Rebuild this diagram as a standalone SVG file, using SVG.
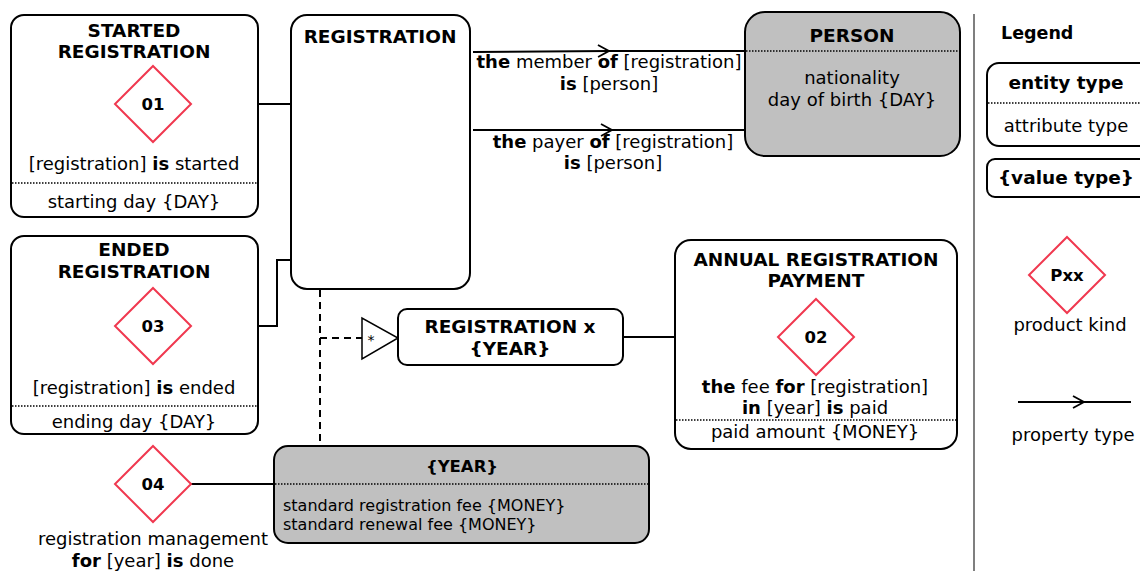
<svg xmlns="http://www.w3.org/2000/svg" width="1140" height="571" viewBox="0 0 1140 571">
<defs>
<style>
text{font-family:"DejaVu Sans",Verdana,sans-serif;fill:#000;}
.t{font-size:18px;text-anchor:middle;}
.h{font-size:18.5px;font-weight:bold;text-anchor:middle;}
.s{font-size:16px;}
.b{font-weight:bold;}
.d{font-size:16.5px;font-weight:bold;text-anchor:middle;}
.box{fill:#fff;stroke:#000;stroke-width:2;}
.gray{fill:#c0c0c0;stroke:#000;stroke-width:2;}
.dot{stroke:#000;stroke-width:1.5;stroke-dasharray:1.5 1.5;fill:none;}
.dia{fill:#fff;stroke:#f0384f;stroke-width:2;}
.ln{stroke:#000;stroke-width:2;fill:none;}
.dash{stroke:#000;stroke-width:2;fill:none;stroke-dasharray:7 5;}
</style>
<marker id="chev" viewBox="0 0 14 14" markerWidth="14" markerHeight="14" refX="12" refY="7" markerUnits="userSpaceOnUse" orient="auto">
<path d="M1,1 L12,7 L1,13" fill="none" stroke="#000" stroke-width="1.8"/>
</marker>
</defs>
<rect width="1140" height="571" fill="#fff"/>

<g id="connectors">
<line class="ln" x1="191" y1="104" x2="291" y2="104"/>
<polyline class="ln" points="191,326 277,326 277,260 291,260"/>
<line class="ln" x1="191" y1="484" x2="274" y2="484"/>
<line class="ln" x1="623" y1="337" x2="778" y2="337"/>
<line class="dash" x1="320" y1="290" x2="320" y2="446"/>
<line class="dash" x1="320" y1="338" x2="362" y2="338"/>
<line class="ln" x1="473" y1="52" x2="609" y2="51" marker-end="url(#chev)"/>
<line class="ln" x1="609" y1="51" x2="745" y2="51"/>
<line class="ln" x1="473" y1="130" x2="612" y2="130" marker-end="url(#chev)"/>
<line class="ln" x1="612" y1="130" x2="745" y2="130"/>
<polygon points="362,318 362,359 398,338" fill="#fff" stroke="#000" stroke-width="1.5"/>
<text x="371" y="345" style="font-size:14px;text-anchor:middle">*</text>
<text x="609" y="68" class="t"><tspan class="b">the</tspan> member <tspan class="b">of</tspan> [registration]</text>
<text x="609" y="90" class="t"><tspan class="b">is</tspan> [person]</text>
<text x="613" y="148" class="t"><tspan class="b">the</tspan> payer <tspan class="b">of</tspan> [registration]</text>
<text x="613" y="169" class="t"><tspan class="b">is</tspan> [person]</text>
</g>

<g id="started-registration">
<rect class="box" x="11" y="15" width="247" height="202" rx="13"/>
<text x="134" y="37" class="h">STARTED</text>
<text x="134" y="58" class="h">REGISTRATION</text>
<polygon class="dia" points="153,66 191,104 153,142 115,104"/>
<text x="153" y="110" class="d">01</text>
<text x="134" y="170" class="t">[registration] <tspan class="b">is</tspan> started</text>
<line class="dot" x1="12" y1="183" x2="257" y2="183"/>
<text x="134" y="208" class="t">starting day {DAY}</text>
</g>

<g id="registration">
<rect class="box" x="291" y="15" width="179" height="274" rx="16"/>
<text x="380" y="43" class="h">REGISTRATION</text>
</g>

<g id="ended-registration">
<rect class="box" x="11" y="236" width="247" height="198" rx="13"/>
<text x="134" y="256" class="h">ENDED</text>
<text x="134" y="278" class="h">REGISTRATION</text>
<polygon class="dia" points="153,288 191,326 153,364 115,326"/>
<text x="153" y="332" class="d">03</text>
<text x="134" y="394" class="t">[registration] <tspan class="b">is</tspan> ended</text>
<line class="dot" x1="12" y1="406" x2="257" y2="406"/>
<text x="134" y="428" class="t">ending day {DAY}</text>
</g>

<g id="p04">
<polygon class="dia" points="153,446 191,484 153,522 115,484"/>
<text x="153" y="490" class="d">04</text>
<text x="153" y="545" class="t">registration management</text>
<text x="153" y="567" class="t"><tspan class="b">for</tspan> [year] <tspan class="b">is</tspan> done</text>
</g>

<g id="year">
<rect class="gray" x="274" y="446" width="375" height="97" rx="14"/>
<text x="462" y="472" class="h" style="font-size:16.5px">{YEAR}</text>
<line class="dot" x1="275" y1="484" x2="648" y2="484"/>
<text x="283" y="511" class="s">standard registration fee {MONEY}</text>
<text x="283" y="530" class="s">standard renewal fee {MONEY}</text>
</g>

<g id="registration-x-year">
<rect class="box" x="398" y="309" width="225" height="56" rx="9"/>
<text x="510" y="333" class="h">REGISTRATION x</text>
<text x="510" y="355" class="h">{YEAR}</text>
</g>

<g id="annual-registration-payment">
<rect class="box" x="675" y="240" width="282" height="209" rx="16"/>
<text x="816" y="266" class="h">ANNUAL REGISTRATION</text>
<text x="816" y="287" class="h">PAYMENT</text>
<polygon class="dia" points="816,299 854,337 816,375 778,337"/>
<text x="816" y="343" class="d">02</text>
<text x="815" y="393" class="t"><tspan class="b">the</tspan> fee <tspan class="b">for</tspan> [registration]</text>
<text x="815" y="414" class="t"><tspan class="b">in</tspan> [year] <tspan class="b">is</tspan> paid</text>
<line class="dot" x1="676" y1="420" x2="956" y2="420"/>
<text x="815" y="438" class="t">paid amount {MONEY}</text>
</g>

<g id="person">
<rect class="gray" x="745" y="12" width="215" height="144" rx="20"/>
<text x="852" y="42" class="h">PERSON</text>
<line class="dot" x1="746" y1="51" x2="959" y2="51"/>
<text x="852" y="84" class="t">nationality</text>
<text x="852" y="106" class="t">day of birth {DAY}</text>
</g>

<g id="legend">
<line x1="974" y1="14" x2="974" y2="571" stroke="#555" stroke-width="1.5"/>
<text x="1001" y="39" style="font-size:17.5px;font-weight:bold">Legend</text>
<rect class="box" x="987" y="63" width="170" height="83" rx="12"/>
<text x="1066" y="89" class="h">entity type</text>
<line class="dot" x1="988" y1="103" x2="1140" y2="103"/>
<text x="1066" y="132" class="t">attribute type</text>
<rect class="box" x="987" y="159" width="170" height="38" rx="8"/>
<text x="1066" y="184" class="h">{value type}</text>
<polygon class="dia" points="1067,237 1105,275 1067,313 1029,275"/>
<text x="1067" y="281" class="d">Pxx</text>
<text x="1070" y="331" class="t">product kind</text>
<line class="ln" x1="1018" y1="402" x2="1084" y2="402" marker-end="url(#chev)"/>
<line class="ln" x1="1084" y1="402" x2="1131" y2="402"/>
<text x="1073" y="441" class="t">property type</text>
</g>
</svg>
